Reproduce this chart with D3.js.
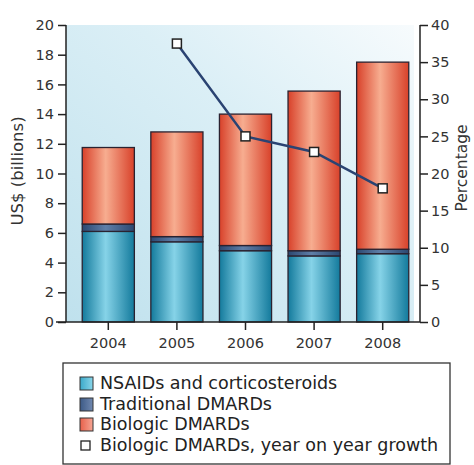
<!DOCTYPE html>
<html><head><meta charset="utf-8">
<script src="https://cdn.jsdelivr.net/npm/d3@7"></script>
<style>body{margin:0;background:#fff}svg{display:block}</style>
</head><body>
<script>
const years = ["2004","2005","2006","2007","2008"];
const nsaids = [6.1, 5.4, 4.8, 4.45, 4.6];
const traditional = [0.5, 0.35, 0.35, 0.35, 0.3];
const biologic = [5.15, 7.05, 8.85, 10.75, 12.6];
const growthYears = ["2005","2006","2007","2008"];
const growth = [37.5, 25.0, 22.9, 18.0];
const leftTicks = [0,2,4,6,8,10,12,14,16,18,20];
const rightTicks = [0,5,10,15,20,25,30,35,40];
const seriesNames = ["NSAIDs and corticosteroids","Traditional DMARDs","Biologic DMARDs"];
const lineName = "Biologic DMARDs, year on year growth";

const W=474,H=465;
const svg=d3.select("body").append("svg").attr("width",W).attr("height",H);
const FONT="DejaVu Sans";
const defs=svg.append("defs");
function hgrad(id,edge,mid){
  const g=defs.append("linearGradient").attr("id",id).attr("x1","0").attr("x2","1").attr("y1","0").attr("y2","0");
  g.append("stop").attr("offset","0").attr("stop-color",edge);
  g.append("stop").attr("offset","0.45").attr("stop-color",mid);
  g.append("stop").attr("offset","1").attr("stop-color",edge);
}
hgrad("gBlue","#137a9c","#86d3e8");
hgrad("gNavy","#2b4770","#5f7fa8");
hgrad("gRed","#d8412a","#f7ad90");
const bg=defs.append("linearGradient").attr("id","gBg").attr("x1","0").attr("y1","1").attr("x2","1").attr("y2","0");
bg.append("stop").attr("offset","0").attr("stop-color","#bfe1ed");
bg.append("stop").attr("offset","0.6").attr("stop-color","#dbeff6");
bg.append("stop").attr("offset","1").attr("stop-color","#f7fbfd");
const lg=defs.append("linearGradient").attr("id","gLeg1").attr("x1","0").attr("x2","1");
lg.append("stop").attr("offset","0").attr("stop-color","#3aa9c9");lg.append("stop").attr("offset","1").attr("stop-color","#8ad6ea");
const lg2=defs.append("linearGradient").attr("id","gLeg2").attr("x1","0").attr("x2","1");
lg2.append("stop").attr("offset","0").attr("stop-color","#3c5a86");lg2.append("stop").attr("offset","1").attr("stop-color","#7189b0");
const lg3=defs.append("linearGradient").attr("id","gLeg3").attr("x1","0").attr("x2","1");
lg3.append("stop").attr("offset","0").attr("stop-color","#e8604a");lg3.append("stop").attr("offset","1").attr("stop-color","#f6a694");

const xL=66,xR=420,yTop=25,yBot=322;
const x=d3.scaleBand().domain(years).range([74,417]).paddingInner(0.24).paddingOuter(0.12);
const y=d3.scaleLinear().domain([0,20]).range([yBot,yTop]);
const y2=d3.scaleLinear().domain([0,40]).range([yBot,yTop]);

svg.append("rect").attr("x",xL).attr("y",yTop).attr("width",414-xL).attr("height",yBot-yTop).attr("fill","url(#gBg)");

const stack=[nsaids,traditional,biologic];
const fills=["url(#gBlue)","url(#gNavy)","url(#gRed)"];
years.forEach((yr,i)=>{
  let base=0;
  stack.forEach((s,k)=>{
    const v=s[i];
    svg.append("rect").attr("x",x(yr)).attr("width",x.bandwidth())
      .attr("y",y(base+v)).attr("height",y(base)-y(base+v))
      .attr("fill",fills[k]).attr("stroke","#2a2230").attr("stroke-width",1.3);
    base+=v;
  });
});

// axes
const axL=svg.append("g").attr("transform",`translate(${xL},0)`).call(d3.axisLeft(y).tickValues(leftTicks).tickSize(8).tickPadding(4));
const axR=svg.append("g").attr("transform",`translate(${xR},0)`).call(d3.axisRight(y2).tickValues(rightTicks).tickSize(8).tickPadding(3));
const axB=svg.append("g").attr("transform",`translate(0,${yBot})`).call(d3.axisBottom(x).tickSize(8).tickPadding(8));
[axL,axR,axB].forEach(a=>{
  a.selectAll("path.domain").attr("stroke","#222").attr("stroke-width",1.5);
  a.selectAll(".tick line").attr("stroke","#222").attr("stroke-width",1.5);
  a.selectAll("text").attr("font-family",FONT).attr("font-size",14.5).attr("fill","#333");
});
axB.select("path.domain").attr("d",`M${xL-10},0H${xR}`);
axL.select("path.domain").attr("d",`M0,${yBot}V${yTop}`);
axR.select("path.domain").attr("d",`M0,${yBot}V${yTop}`);

svg.append("text").attr("transform","translate(23,171) rotate(-90)").attr("text-anchor","middle")
  .attr("font-family",FONT).attr("font-size",16.5).attr("fill","#333").text("US$ (billions)");
svg.append("text").attr("transform","translate(467,168) rotate(-90)").attr("text-anchor","middle")
  .attr("font-family",FONT).attr("font-size",15.5).attr("fill","#333").text("Percentage");

// line
const line=d3.line().x((d,i)=>x(growthYears[i])+x.bandwidth()/2).y(d=>y2(d));
svg.append("path").datum(growth).attr("d",line).attr("fill","none").attr("stroke","#2a4372").attr("stroke-width",2.5);
svg.selectAll("rect.mk").data(growth).enter().append("rect").attr("class","mk")
  .attr("x",(d,i)=>x(growthYears[i])+x.bandwidth()/2-4.5).attr("y",d=>y2(d)-4.5)
  .attr("width",9).attr("height",9).attr("fill","#fff").attr("stroke","#222").attr("stroke-width",1.5);

// legend
svg.append("rect").attr("x",63).attr("y",363).attr("width",387).attr("height",101)
  .attr("fill","#fff").attr("stroke","#333").attr("stroke-width",1.3);
const legFills=["url(#gLeg1)","url(#gLeg2)","url(#gLeg3)"];
const rowY=[383,404,424,445];
seriesNames.forEach((n,i)=>{
  svg.append("rect").attr("x",80).attr("y",rowY[i]-6).attr("width",13).attr("height",13)
    .attr("fill",legFills[i]).attr("stroke","#333").attr("stroke-width",1);
  svg.append("text").attr("x",100).attr("y",rowY[i]).attr("dy","0.35em")
    .attr("font-family",FONT).attr("font-size",17.5).attr("fill","#222").text(n);
});
svg.append("rect").attr("x",81).attr("y",rowY[3]-4).attr("width",9).attr("height",9)
  .attr("fill","#fff").attr("stroke","#222").attr("stroke-width",1.3);
svg.append("text").attr("x",100).attr("y",rowY[3]).attr("dy","0.35em")
  .attr("font-family",FONT).attr("font-size",17.5).attr("fill","#222").text(lineName);
</script>
</body></html>
